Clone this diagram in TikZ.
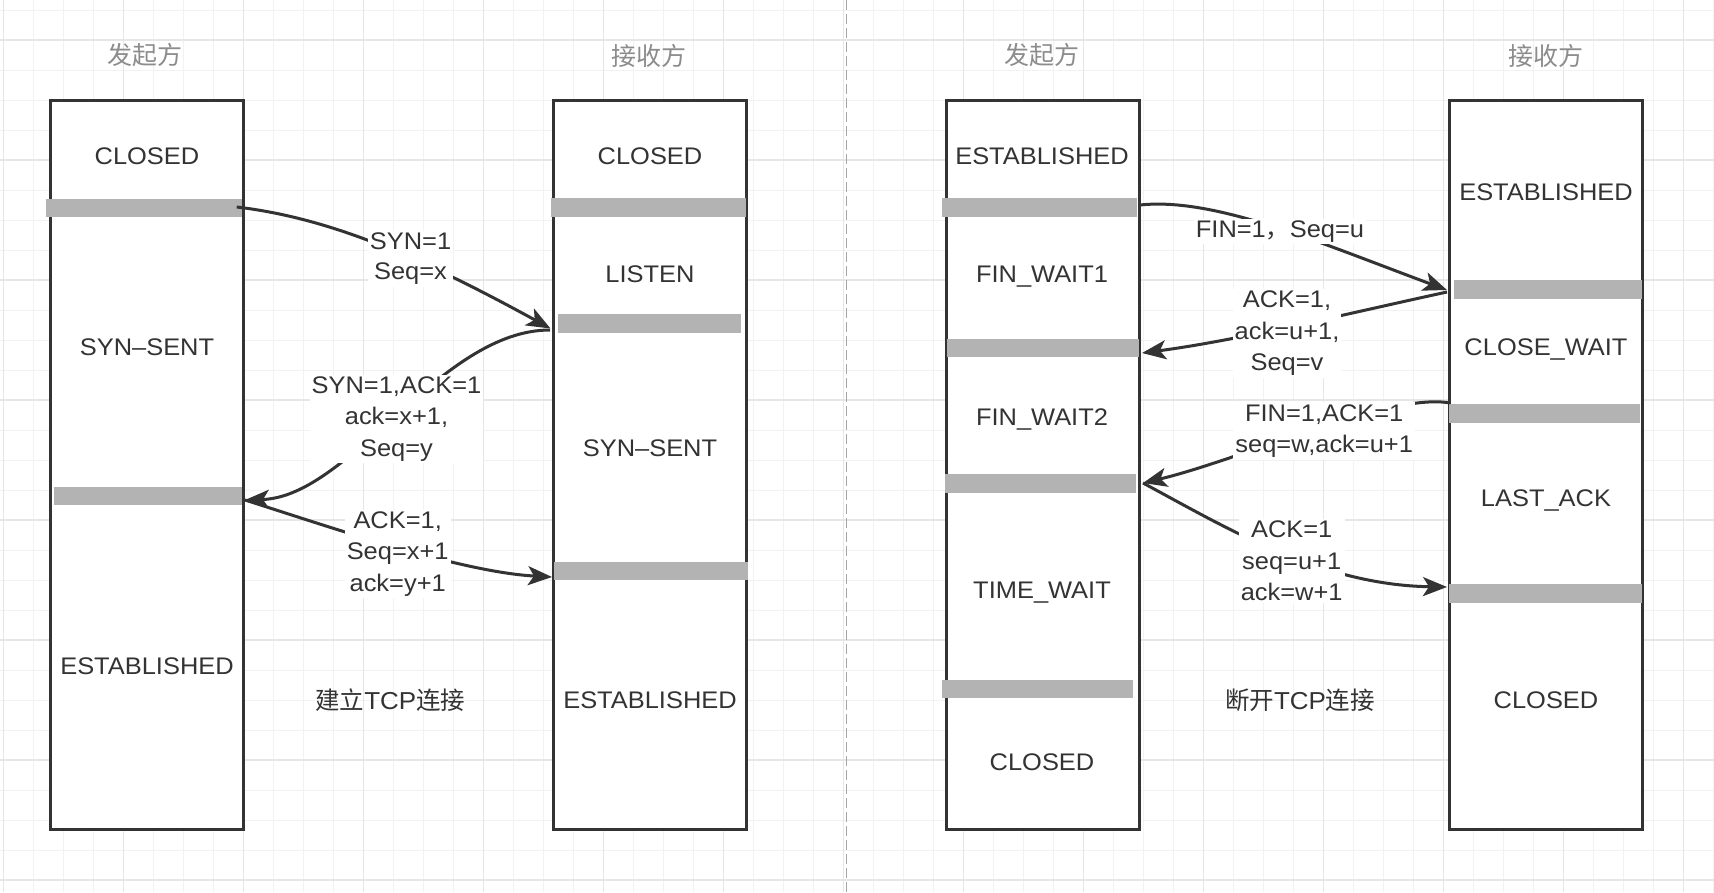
\documentclass[tikz,border=0pt]{standalone}
\usepackage{fontspec}
\setmainfont{Liberation Sans}[FakeStretch=1.06]
\newfontfamily\cjk{Noto Sans CJK SC}
\usetikzlibrary{arrows.meta}
\definecolor{ink}{HTML}{333333}
\definecolor{barc}{HTML}{B3B3B3}
\definecolor{titlec}{HTML}{8C8C8C}
\definecolor{gridminor}{HTML}{F2F2F2}
\definecolor{gridmajor}{HTML}{E6E6E6}
\definecolor{divider}{HTML}{A6A6A6}
\begin{document}
\begin{tikzpicture}[x=1pt,y=-1pt,
  lifebox/.style={draw=ink,line width=3pt,fill=white,minimum width=193pt,minimum height=729pt,inner sep=0pt},
  bar/.style={fill=barc,inner sep=0pt,minimum height=18.5pt},
  state/.style={text=ink,font=\fontsize{24}{30}\selectfont,text height=17.2pt,text depth=0pt,inner sep=0pt},
  title/.style={text=titlec,font=\cjk\fontsize{25}{30}\selectfont,inner sep=0pt},
  caption/.style={text=ink,font=\fontsize{24.5}{30}\selectfont,inner sep=0pt},
  msg/.style={fill=white,text=ink,align=center,font=\fontsize{24}{31.5}\selectfont,inner sep=2pt},
  flow/.style={draw=ink,line width=3pt,-{Stealth[length=24pt,width=19pt,inset=6pt]}},
]
\useasboundingbox (0,0) rectangle (1714,892);
\fill[white] (0,0) rectangle (1714,892);
% grid
\foreach \i in {0,...,57} \draw[gridminor,line width=1pt] ({3.3+30*\i},0) -- ({3.3+30*\i},892);
\foreach \j in {0,...,29} \draw[gridminor,line width=1pt] (0,{10+30*\j}) -- (1714,{10+30*\j});
\foreach \i in {0,...,14} \draw[gridmajor,line width=1.2pt] ({3.3+120*\i},0) -- ({3.3+120*\i},892);
\foreach \j in {0,...,7} \draw[gridmajor,line width=1.2pt] (0,{40+120*\j}) -- (1714,{40+120*\j});
% divider
\draw[divider,line width=1.3pt,dash pattern=on 10pt off 4pt] (846.5,0) -- (846.5,892);

% titles
\node[title] (t1) at (145,55.5) {发起方};
\node[title] (t2) at (649,55.5) {接收方};
\node[title] (t3) at (1042,55.5) {发起方};
\node[title] (t4) at (1546,55.5) {接收方};

% boxes
\node[lifebox] (A) at (147,464.8) {};
\node[lifebox] (B) at (650,464.8) {};
\node[lifebox] (C) at (1042.5,464.8) {};
\node[lifebox] (D) at (1546,464.8) {};

% bars
\node[bar,minimum width=196pt] (A1) at (144,207.8) {};
\node[bar,minimum width=188pt] (A2) at (148,496) {};
\node[bar,minimum width=195pt] (B1) at (648,207.5) {};
\node[bar,minimum width=183pt] (B2) at (649.5,323.5) {};
\node[bar,minimum width=194pt] (B3) at (651,571) {};
\node[bar,minimum width=195pt] (C1) at (1039.5,207.3) {};
\node[bar,minimum width=192pt] (C2) at (1043,348) {};
\node[bar,minimum width=191pt] (C3) at (1040.5,483.5) {};
\node[bar,minimum width=191pt] (C4) at (1037.5,689) {};
\node[bar,minimum width=188pt] (D1) at (1548,289.3) {};
\node[bar,minimum width=191pt] (D2) at (1544.5,413.5) {};
\node[bar,minimum width=193pt] (D3) at (1545.5,593.5) {};

% states
\node[state] (sA1) at (147,156) {CLOSED};
\node[state] (sA2) at (147,346.5) {SYN–SENT};
\node[state] (sA3) at (147,666) {ESTABLISHED};
\node[state] (sB1) at (650,156) {CLOSED};
\node[state] (sB2) at (650,274) {LISTEN};
\node[state] (sB3) at (650,448) {SYN–SENT};
\node[state] (sB4) at (650,700) {ESTABLISHED};
\node[state] (sC1) at (1042,156) {ESTABLISHED};
\node[state] (sC2) at (1042,274) {FIN\_WAIT1};
\node[state] (sC3) at (1042,416.5) {FIN\_WAIT2};
\node[state] (sC4) at (1042,590) {TIME\_WAIT};
\node[state] (sC5) at (1042,762) {CLOSED};
\node[state] (sD1) at (1546,192) {ESTABLISHED};
\node[state] (sD2) at (1546,346.5) {CLOSE\_WAIT};
\node[state] (sD3) at (1546,498) {LAST\_ACK};
\node[state] (sD4) at (1546,700) {CLOSED};

% captions
\node[caption] (cap1) at (390.3,700) {{\cjk 建立}TCP{\cjk 连接}};
\node[caption] (cap2) at (1300,700) {{\cjk 断开}TCP{\cjk 连接}};

% connector end points
\coordinate (p1) at (236.7,207);
\coordinate (p2) at (550.5,328.5);
\coordinate (p3) at (550,330);
\coordinate (p4) at (245,500);
\coordinate (p5) at (552,577);
\coordinate (q1) at (1140,205);
\coordinate (q2) at (1447,290);
\coordinate (q3) at (1447,292);
\coordinate (q4) at (1142,353);
\coordinate (q5) at (1450,403);
\coordinate (q6) at (1143,483);
\coordinate (q7) at (1447,587);

% connectors
\draw[flow] (p1) .. controls (330,218) and (420,257) .. (p2);
\draw[flow] (p3) .. controls (440,330) and (350,497) .. (p4);
\draw[flow] (p4) .. controls (330,527) and (460,572) .. (p5);
\draw[flow] (q1) .. controls (1215,197) and (1320,243) .. (q2);
\draw[flow] (q3) .. controls (1350,313) and (1240,340) .. (q4);
\draw[flow] (q5) .. controls (1390,392) and (1240,460) .. (q6);
\draw[flow] (q6) .. controls (1225,527) and (1320,585) .. (q7);

% messages
\node[msg,font=\fontsize{24}{30}\selectfont] (m1) at (410.5,259) {SYN=1\\Seq=x};
\node[msg] (m2) at (396.5,419) {SYN=1,ACK=1\\ack=x+1,\\Seq=y};
\node[msg] (m3) at (397.7,554) {ACK=1,\\Seq=x+1\\ack=y+1};
\node[msg,anchor=base] (m4) at (1280,237.3) {FIN=1{\cjk ，}Seq=u};
\node[msg] (m5) at (1287,333.4) {ACK=1,\\ack=u+1,\\Seq=v};
\node[msg] (m6) at (1324.2,431) {FIN=1,ACK=1\\seq=w,ack=u+1};
\node[msg] (m7) at (1291.7,561) {ACK=1\\seq=u+1\\ack=w+1};
\end{tikzpicture}
\end{document}
